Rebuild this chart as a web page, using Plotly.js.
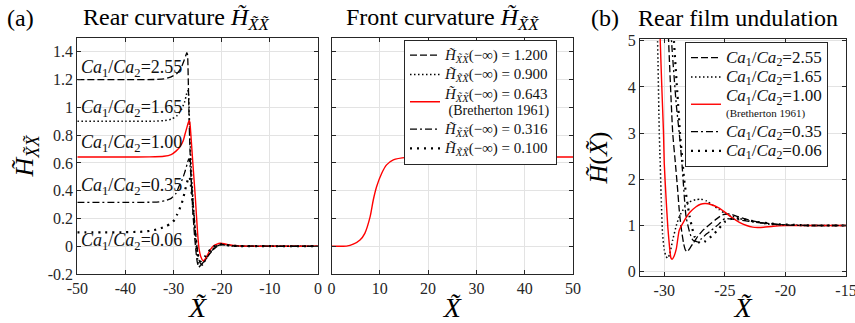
<!DOCTYPE html>
<html>
<head>
<meta charset="utf-8">
<script src="https://cdn.plot.ly/plotly-3.0.1.min.js"></script>
<style>html,body{margin:0;padding:0;background:#fff;}#chart{width:855px;height:323px;}</style>
</head>
<body>
<div id="chart"></div>
<script>
// ---------- Panel (a): rear curvature ----------
const rearX_255 = [-50,-40,-34,-32,-30.5,-29.3,-28.5,-27.9,-27.5,-27.25,-27.1,-26.95,-26.8,-26.6,-26.3,-26,-25.7,-25.4,-25.1,-24.8,-24.4,-23.8,-23.3,-22.6,-21.9,-21.1,-20.3,-19.3,-18,-16,0];
const rearY_255 = [1.2,1.2,1.201,1.205,1.22,1.245,1.28,1.33,1.37,1.395,1.38,1.2,0.95,0.7,0.45,0.25,0.1,-0.02,-0.11,-0.147,-0.14,-0.115,-0.087,-0.055,-0.027,-0.005,0.01,0.012,0.005,0.001,0];
const rearX_165 = [-50,-40,-34,-32,-30.5,-29.3,-28.3,-27.7,-27.35,-27.1,-26.9,-26.75,-26.55,-26.3,-26,-25.7,-25.4,-25.1,-24.8,-24.5,-24,-23.4,-22.7,-22,-21.2,-20.3,-19.3,-18,-16,0];
const rearY_165 = [0.9,0.9,0.901,0.905,0.915,0.94,0.99,1.04,1.09,1.12,1.1,0.95,0.75,0.55,0.35,0.18,0.04,-0.07,-0.135,-0.15,-0.135,-0.1,-0.06,-0.025,0,0.012,0.01,0.004,0.001,0];
const rearX_100 = [-50,-40,-35,-32,-30.5,-29.5,-28.6,-28,-27.6,-27.2,-26.9,-26.7,-26.55,-26.4,-26,-25.5,-25,-24.7,-24.3,-23.9,-23.5,-23,-22.4,-21.8,-21,-20.3,-19.5,-18.5,-17.5,-16,0];
const rearY_100 = [0.643,0.643,0.644,0.648,0.66,0.685,0.72,0.76,0.81,0.86,0.895,0.905,0.87,0.8,0.6,0.36,0.09,-0.02,-0.08,-0.104,-0.095,-0.065,-0.027,0,0.015,0.021,0.018,0.011,0.005,0.001,0];
const rearX_035 = [-50,-40,-35,-33,-31.5,-30.5,-29.5,-28.9,-28.2,-27.7,-27.2,-26.9,-26.75,-26.5,-26.2,-25.9,-25.6,-25.3,-25,-24.7,-24.3,-23.8,-23.2,-22.5,-21.8,-21,-20.2,-19.2,-18,-16,0];
const rearY_035 = [0.316,0.316,0.317,0.32,0.33,0.345,0.38,0.43,0.48,0.53,0.59,0.625,0.63,0.55,0.42,0.29,0.16,0.05,-0.04,-0.1,-0.13,-0.12,-0.09,-0.055,-0.025,0,0.012,0.01,0.004,0.001,0];
const rearX_006 = [-50,-45,-40,-37,-35,-33,-31.5,-30.5,-29.8,-29.3,-28.8,-28.3,-27.9,-27.6,-27.2,-26.9,-26.7,-26.5,-26.2,-25.9,-25.6,-25.3,-25,-24.7,-24.4,-24,-23.5,-23,-22.4,-21.8,-21,-20.2,-19.2,-18,-16,0];
const rearY_006 = [0.1,0.1,0.101,0.104,0.11,0.125,0.145,0.165,0.19,0.225,0.265,0.31,0.36,0.405,0.46,0.49,0.5,0.47,0.37,0.25,0.13,0.03,-0.05,-0.1,-0.11,-0.095,-0.075,-0.05,-0.025,-0.005,0.008,0.015,0.01,0.004,0.001,0];

// ---------- Front curvature ----------
const frontX = [0,2,3.1,4.5,5.9,6.9,8.0,8.65,9.35,10.4,11.4,12.8,15.6,20,30,50];
const frontY = [0,0,0.001,0.015,0.045,0.093,0.213,0.333,0.43,0.526,0.586,0.622,0.64,0.643,0.643,0.643];

// ---------- Panel (b): rear film undulation ----------
const filmX_255 = [-29.8,-29.64,-29.3,-29.08,-28.9,-28.76,-28.6,-28.4,-28.25,-28.1,-27.9,-27.6,-27.25,-26.8,-26.3,-25.8,-25.2,-24.6,-24.0,-23.0,-22.0,-20.8,-20,-18,-15];
const filmY_255 = [6.2,5.0,3.0,2.35,1.8,1.33,0.95,0.61,0.47,0.43,0.5,0.62,0.76,0.9,1.01,1.12,1.23,1.25,1.2,1.12,1.06,1.03,1.01,1.0,1.0];
const filmX_165 = [-30.7,-30.55,-30.41,-30.36,-30.25,-30.14,-30.0,-29.85,-29.72,-29.55,-29.3,-29.0,-28.76,-28.3,-27.9,-27.4,-26.97,-26.5,-26.0,-25.5,-25.0,-24.4,-23.8,-23.0,-22.0,-21.0,-20,-18,-15];
const filmY_165 = [6.2,5.0,3.0,2.6,1.6,0.83,0.47,0.33,0.29,0.38,0.69,1.0,1.19,1.4,1.51,1.56,1.57,1.53,1.44,1.35,1.26,1.2,1.15,1.1,1.05,1.02,1.01,1.0,1.0];
const filmX_100 = [-30.45,-30.33,-30.2,-30.06,-30.0,-29.85,-29.7,-29.55,-29.45,-29.35,-29.2,-29.0,-28.76,-28.4,-27.9,-27.4,-27.0,-26.6,-26.1,-25.5,-25.0,-24.4,-23.8,-23.2,-22.7,-22.3,-21.8,-21,-20,-18,-15];
const filmY_100 = [6.2,5.0,4.0,3.0,2.35,1.6,0.95,0.5,0.3,0.27,0.33,0.5,0.9,1.08,1.28,1.4,1.46,1.475,1.45,1.38,1.29,1.17,1.07,1.0,0.965,0.957,0.962,0.985,0.998,1.0,1.0];
const filmX_035 = [-29.6,-29.4,-29.0,-28.76,-28.54,-28.2,-27.9,-27.66,-27.45,-27.25,-26.9,-26.5,-26.1,-25.5,-25.0,-24.4,-23.8,-23.0,-22,-21,-20,-18,-15];
const filmY_035 = [6.2,5.0,3.6,3.0,2.35,1.19,0.85,0.69,0.66,0.65,0.72,0.82,0.9,1.03,1.15,1.14,1.12,1.09,1.06,1.03,1.01,1.0,1.0];
const filmX_006 = [-29.4,-29.2,-28.9,-28.7,-28.5,-28.35,-28.1,-27.9,-27.7,-27.5,-27.2,-26.97,-26.6,-26.0,-25.5,-25.0,-24.5,-24.1,-23.4,-22.4,-21.5,-20.8,-20,-19,-18,-17,-16,-15];
const filmY_006 = [6.2,5.0,3.8,3.0,2.4,1.98,1.5,1.19,0.95,0.76,0.65,0.61,0.66,0.79,0.93,1.08,1.14,1.16,1.13,1.08,1.05,1.03,1.02,1.01,1.0,1.0,1.0,1.0];

// ---------- Labels ----------
const HXX = '<i>H̃</i><sub><i>X̃X̃</i></sub>';
const sp = (size, t) => '<span style="font-size:' + size + 'px">' + t + '</span>';
const rearLegendNames = [
  sp(15, HXX + '(−∞) = 1.200'),
  sp(15, HXX + '(−∞) = 0.900'),
  sp(15, HXX + '(−∞) = 0.643') + '<br>' + sp(14, '\u00a0(Bretherton 1961)'),
  sp(15, HXX + '(−∞) = 0.316'),
  sp(15, HXX + '(−∞) = 0.100')
];
const ratioText = r => '<i>Ca</i><sub>1</sub>/<i>Ca</i><sub>2</sub>=' + r;
const ratioValues = ['2.55','1.65','1.00','0.35','0.06'];
const ratioLabelY = [1.283, 0.994, 0.742, 0.429, 0.033];
const filmLegendNames = [
  sp(17, ratioText('2.55')),
  sp(17, ratioText('1.65')),
  sp(17, ratioText('1.00')) + '<br>' + sp(11, '(Bretherton 1961)'),
  sp(17, ratioText('0.35')),
  sp(17, ratioText('0.06'))
];
const rearXTicks = [-50,-40,-30,-20,-10,0];
const rearXTickText = ['-50','-40','-30','-20','-10','0'];
const curvYTicks = [-0.2,0,0.2,0.4,0.6,0.8,1,1.2,1.4];
const curvYTickText = ['-0.2','0','0.2','0.4','0.6','0.8','1','1.2','1.4'];
const frontXTicks = [0,10,20,30,40,50];
const frontXTickText = ['0','10','20','30','40','50'];
const filmXTicks = [-30,-25,-20,-15];
const filmXTickText = ['-30','-25','-20','-15'];
const filmYTicks = [0,1,2,3,4,5];
const filmYTickText = ['0','1','2','3','4','5'];

// ---------- Styles ----------
const styles = [
  {color:'#000', width:1.3, dash:'7px,3px'},
  {color:'#000', width:1.5, dash:'1.5px,2.5px'},
  {color:'#ff0000', width:1.4, dash:'solid'},
  {color:'#000', width:1.3, dash:'7px,3px,2px,3px'},
  {color:'#000', width:2.2, dash:'2px,5px'}
];
const rearXs = [rearX_255, rearX_165, rearX_100, rearX_035, rearX_006];
const rearYs = [rearY_255, rearY_165, rearY_100, rearY_035, rearY_006];
const filmXs = [filmX_255, filmX_165, filmX_100, filmX_035, filmX_006];
const filmYs = [filmY_255, filmY_165, filmY_100, filmY_035, filmY_006];

const traces = [];
for (let i = 0; i < 5; i++) {
  traces.push({x: rearXs[i], y: rearYs[i], xaxis:'x', yaxis:'y', type:'scatter', mode:'lines',
    name: rearLegendNames[i], legend:'legend', line: Object.assign({shape:'spline', smoothing:0.5}, styles[i])});
}
traces.push({x: frontX, y: frontY, xaxis:'x2', yaxis:'y2', type:'scatter', mode:'lines', showlegend:false,
  line:{color:'#ff0000', width:1.4, shape:'spline', smoothing:0.8}});
for (let i = 0; i < 5; i++) {
  traces.push({x: filmXs[i], y: filmYs[i], xaxis:'x3', yaxis:'y3', type:'scatter', mode:'lines',
    name: filmLegendNames[i], legend:'legend2', line: Object.assign({shape:'spline', smoothing:0.5}, styles[i])});
}

const W = 855, H = 323;
const px = v => v / W;
const py = v => (H - v) / H;
const FONT = 'Liberation Serif';
const axisCommon = {
  showline:true, mirror:'ticks', linecolor:'#262626', linewidth:1,
  ticks:'inside', ticklen:4, tickcolor:'#262626', ticklabeloverflow:'allow',
  showgrid:true, gridcolor:'#e3e3e3', gridwidth:1, zeroline:false,
  tickfont:{family:FONT, size:16, color:'#262626'}
};

const annotations = [];
const titleFont = {family:FONT, size:24, color:'#000'};
annotations.push({xref:'paper', yref:'paper', x:px(5), y:py(18), xanchor:'left', yanchor:'middle', text:'(a)', showarrow:false, font:titleFont});
annotations.push({xref:'paper', yref:'paper', x:px(81), y:py(19), xanchor:'left', yanchor:'middle', text:'Rear curvature ' + HXX, showarrow:false, font:titleFont});
annotations.push({xref:'paper', yref:'paper', x:px(344), y:py(19), xanchor:'left', yanchor:'middle', text:'Front curvature ' + HXX, showarrow:false, font:titleFont});
annotations.push({xref:'paper', yref:'paper', x:px(589), y:py(18), xanchor:'left', yanchor:'middle', text:'(b)', showarrow:false, font:titleFont});
annotations.push({xref:'paper', yref:'paper', x:px(636), y:py(18), xanchor:'left', yanchor:'middle', text:'Rear film undulation', showarrow:false, font:titleFont});
for (let i = 0; i < 5; i++) {
  annotations.push({xref:'x', yref:'y', x:-49.6, y:ratioLabelY[i], xanchor:'left', yanchor:'middle',
    text: ratioText(ratioValues[i]), showarrow:false, font:{family:FONT, size:18, color:'#111'}});
}

const legendCommon = {xanchor:'left', yanchor:'top', bgcolor:'#fff', bordercolor:'#262626', borderwidth:1,
  tracegroupgap:0, itemwidth:30, font:{family:FONT, size:12.5, color:'#111'}};

const layout = {
  width:W, height:H, margin:{l:0, r:0, t:0, b:0},
  paper_bgcolor:'#fff', plot_bgcolor:'#fff',
  font:{family:FONT, color:'#262626'},
  xaxis: Object.assign({}, axisCommon, {domain:[px(77.3), px(318)], range:[-50,0], tickvals:rearXTicks, ticktext:rearXTickText, anchor:'y',
    title:{text:'<i>X̃</i>', font:{family:FONT, size:28, color:'#000'}, standoff:2}}),
  yaxis: Object.assign({}, axisCommon, {domain:[py(274), py(38)], range:[-0.2,1.5], tickvals:curvYTicks, ticktext:curvYTickText, anchor:'x',
    title:{text:HXX, font:{family:FONT, size:26, color:'#000'}, standoff:6}}),
  xaxis2: Object.assign({}, axisCommon, {domain:[px(331.5), px(573)], range:[0,50], tickvals:frontXTicks, ticktext:frontXTickText, anchor:'y2',
    title:{text:'<i>X̃</i>', font:{family:FONT, size:28, color:'#000'}, standoff:2}}),
  yaxis2: Object.assign({}, axisCommon, {domain:[py(274), py(38)], range:[-0.2,1.5], tickvals:curvYTicks, showticklabels:false, anchor:'x2'}),
  xaxis3: Object.assign({}, axisCommon, {domain:[px(640), px(846)], range:[-32,-15], tickvals:filmXTicks, ticktext:filmXTickText, anchor:'y3',
    title:{text:'<i>X̃</i>', font:{family:FONT, size:28, color:'#000'}, standoff:2}}),
  yaxis3: Object.assign({}, axisCommon, {domain:[py(276), py(39)], range:[-0.093,5.037], tickvals:filmYTicks, ticktext:filmYTickText, anchor:'x3',
    title:{text:'<i>H̃</i>(<i>X̃</i>)', font:{family:FONT, size:26, color:'#000'}, standoff:12}}),
  legend: Object.assign({}, legendCommon, {x:px(404), y:py(39.5)}),
  legend2: Object.assign({}, legendCommon, {x:px(685), y:py(42)}),
  annotations: annotations,
  showlegend:true
};

Plotly.newPlot('chart', traces, layout, {displayModeBar:false, staticPlot:true});
</script>
</body>
</html>
